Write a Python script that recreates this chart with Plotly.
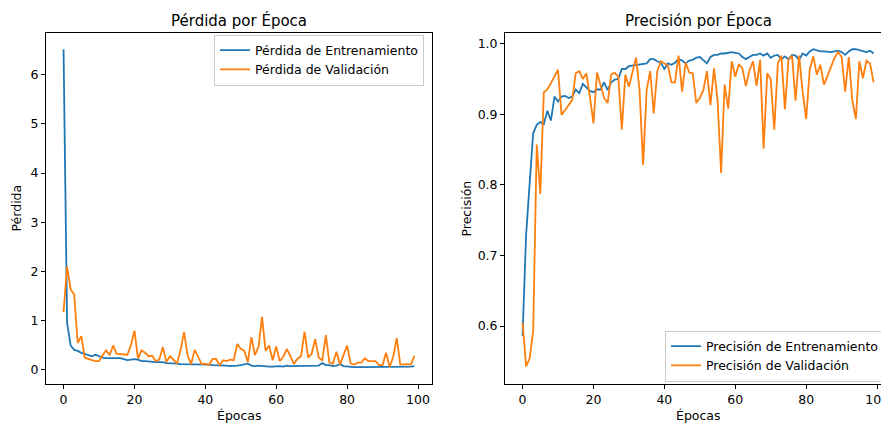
import plotly.graph_objects as go

epochs = list(range(100))

train_loss = [6.52, 0.95, 0.49, 0.40, 0.38, 0.34, 0.32, 0.30, 0.27, 0.30,
              0.27, 0.24, 0.23, 0.23, 0.23, 0.23, 0.23, 0.21, 0.19, 0.20,
              0.21, 0.20, 0.17, 0.17, 0.16, 0.16, 0.15, 0.15, 0.15, 0.13,
              0.13, 0.12, 0.12, 0.11, 0.11, 0.11, 0.10, 0.10, 0.10, 0.10,
              0.10, 0.10, 0.09, 0.09, 0.08, 0.08, 0.08, 0.07, 0.07, 0.08,
              0.09, 0.10, 0.12, 0.08, 0.07, 0.08, 0.07, 0.07, 0.06, 0.06,
              0.07, 0.07, 0.06, 0.08, 0.07, 0.07, 0.07, 0.07, 0.08, 0.07,
              0.07, 0.07, 0.08, 0.13, 0.09, 0.09, 0.07, 0.08, 0.11, 0.07,
              0.06, 0.06, 0.05, 0.05, 0.05, 0.06, 0.06, 0.05, 0.06, 0.06,
              0.05, 0.06, 0.06, 0.05, 0.05, 0.05, 0.05, 0.06, 0.06, 0.07]

val_loss = [1.17, 2.10, 1.63, 1.53, 0.54, 0.68, 0.24, 0.21, 0.19, 0.17,
            0.17, 0.29, 0.39, 0.29, 0.49, 0.32, 0.31, 0.30, 0.30, 0.49,
            0.79, 0.22, 0.39, 0.34, 0.27, 0.28, 0.17, 0.20, 0.46, 0.15,
            0.27, 0.20, 0.12, 0.39, 0.76, 0.29, 0.11, 0.40, 0.27, 0.11,
            0.12, 0.09, 0.21, 0.22, 0.09, 0.19, 0.17, 0.20, 0.19, 0.52,
            0.42, 0.38, 0.15, 0.66, 0.29, 0.46, 1.07, 0.38, 0.49, 0.19,
            0.47, 0.17, 0.26, 0.42, 0.27, 0.11, 0.22, 0.27, 0.77, 0.24,
            0.32, 0.62, 0.24, 0.19, 0.70, 0.14, 0.12, 0.36, 0.10, 0.29,
            0.49, 0.12, 0.10, 0.14, 0.14, 0.23, 0.17, 0.17, 0.17, 0.09,
            0.09, 0.34, 0.05, 0.26, 0.64, 0.10, 0.11, 0.11, 0.10, 0.28]

train_acc = [0.586, 0.729, 0.802, 0.873, 0.885, 0.889, 0.886, 0.905, 0.891, 0.925,
             0.918, 0.925, 0.926, 0.923, 0.925, 0.935, 0.930, 0.943, 0.938, 0.933,
             0.931, 0.935, 0.935, 0.945, 0.934, 0.945, 0.949, 0.950, 0.964, 0.964,
             0.968, 0.969, 0.970, 0.970, 0.972, 0.972, 0.978, 0.978, 0.975, 0.973,
             0.964, 0.972, 0.970, 0.973, 0.978, 0.976, 0.972, 0.976, 0.977, 0.980,
             0.981, 0.977, 0.972, 0.981, 0.984, 0.984, 0.986, 0.986, 0.987, 0.988,
             0.987, 0.986, 0.981, 0.978, 0.981, 0.984, 0.984, 0.986, 0.983, 0.986,
             0.980, 0.983, 0.984, 0.978, 0.982, 0.978, 0.984, 0.983, 0.977, 0.986,
             0.983, 0.989, 0.992, 0.990, 0.989, 0.989, 0.988, 0.988, 0.989, 0.990,
             0.988, 0.984, 0.989, 0.992, 0.992, 0.991, 0.990, 0.988, 0.990, 0.986]

val_acc = [0.605, 0.543, 0.554, 0.594, 0.857, 0.787, 0.931, 0.935, 0.944, 0.953,
           0.963, 0.899, 0.906, 0.913, 0.920, 0.958, 0.961, 0.950, 0.958, 0.925,
           0.887, 0.959, 0.942, 0.923, 0.916, 0.956, 0.959, 0.953, 0.878, 0.956,
           0.939, 0.958, 0.980, 0.934, 0.828, 0.934, 0.961, 0.901, 0.961, 0.975,
           0.972, 0.969, 0.945, 0.945, 0.983, 0.932, 0.973, 0.959, 0.958, 0.916,
           0.923, 0.934, 0.961, 0.913, 0.965, 0.920, 0.817, 0.942, 0.908, 0.975,
           0.953, 0.971, 0.965, 0.940, 0.962, 0.975, 0.940, 0.977, 0.851, 0.958,
           0.949, 0.878, 0.972, 0.983, 0.907, 0.977, 0.983, 0.919, 0.983, 0.932,
           0.893, 0.963, 0.982, 0.956, 0.970, 0.942, 0.954, 0.968, 0.980, 0.988,
           0.981, 0.932, 0.981, 0.920, 0.893, 0.975, 0.951, 0.976, 0.972, 0.945]

loss_ticks = [0, 1, 2, 3, 4, 5, 6]
acc_ticks = [0.6, 0.7, 0.8, 0.9, 1.0]
epoch_ticks = [0, 20, 40, 60, 80, 100]

BLUE = "#1f77b4"
ORANGE = "#ff7f0e"
FONT = "DejaVu Sans"
FS = 12.5
TFS = 15
LW = 1.8
W, H = 881, 423
ML, MT, MB = 46, 33, 39
PW = W - ML
PH = H - MT - MB

def px_x(p):
    return (p - ML) / PW

def px_y(p):
    return (H - MB - p) / PH

fig = go.Figure()
fig.add_trace(go.Scatter(x=epochs, y=train_loss, mode="lines", name="Pérdida de Entrenamiento",
                         line=dict(color=BLUE, width=LW), xaxis="x", yaxis="y", legend="legend"))
fig.add_trace(go.Scatter(x=epochs, y=val_loss, mode="lines", name="Pérdida de Validación",
                         line=dict(color=ORANGE, width=LW), xaxis="x", yaxis="y", legend="legend"))
fig.add_trace(go.Scatter(x=epochs, y=train_acc, mode="lines", name="Precisión de Entrenamiento",
                         line=dict(color=BLUE, width=LW), xaxis="x2", yaxis="y2", legend="legend2"))
fig.add_trace(go.Scatter(x=epochs, y=val_acc, mode="lines", name="Precisión de Validación",
                         line=dict(color=ORANGE, width=LW), xaxis="x2", yaxis="y2", legend="legend2"))

axis_common = dict(showgrid=False, zeroline=False, showline=True, linecolor="black", linewidth=0.9,
                   ticks="outside", ticklen=4, tickwidth=0.9, tickcolor="black",
                   ticklabeloverflow="allow",
                   tickfont=dict(family=FONT, size=FS, color="black"))

fig.update_layout(
    width=W, height=H,
    margin=dict(l=ML, r=0, t=MT, b=MB, autoexpand=False),
    paper_bgcolor="white", plot_bgcolor="white",
    font=dict(family=FONT, size=FS, color="black"),
    xaxis=dict(domain=[0, px_x(432)], range=[-4.95, 103.95], tickvals=epoch_ticks,
               mirror=True, anchor="y", **axis_common),
    yaxis=dict(domain=[0, 1], range=[-0.295, 6.85], tickvals=loss_ticks,
               mirror=True, anchor="x", **axis_common),
    xaxis2=dict(domain=[px_x(505), 1], range=[-4.95, 101.1], tickvals=epoch_ticks,
                mirror=True, anchor="y2", **axis_common),
    yaxis2=dict(domain=[0, 1], range=[0.518, 1.015], tickvals=acc_ticks, tickformat=".1f",
                mirror=False, anchor="x2", **axis_common),
    legend=dict(x=px_x(424), y=px_y(34.5), xanchor="right", yanchor="top",
                bgcolor="rgba(255,255,255,0.8)", bordercolor="#cccccc", borderwidth=1,
                font=dict(family=FONT, size=FS, color="black")),
    legend2=dict(x=px_x(665), y=px_y(381.5), xanchor="left", yanchor="bottom",
                 bgcolor="rgba(255,255,255,0.8)", bordercolor="#cccccc", borderwidth=1,
                 font=dict(family=FONT, size=FS, color="black")),
    showlegend=True,
)

annots = [
    dict(text="Pérdida por Época", x=239, y=20, size=TFS),
    dict(text="Precisión por Época", x=698, y=20, size=TFS),
    dict(text="Épocas", x=239, y=415, size=FS),
    dict(text="Épocas", x=698, y=415, size=FS),
]
for a in annots:
    fig.add_annotation(text=a["text"], xref="paper", yref="paper", x=px_x(a["x"]), y=px_y(a["y"]),
                       xanchor="center", yanchor="middle", showarrow=False,
                       font=dict(family=FONT, size=a["size"], color="black"))
for text, xpos in [("Pérdida", 16), ("Precisión", 466)]:
    fig.add_annotation(text=text, xref="paper", yref="paper", x=px_x(xpos), y=px_y(208.5),
                       xanchor="center", yanchor="middle", showarrow=False, textangle=-90,
                       font=dict(family=FONT, size=FS, color="black"))

fig.write_html("out.html")
